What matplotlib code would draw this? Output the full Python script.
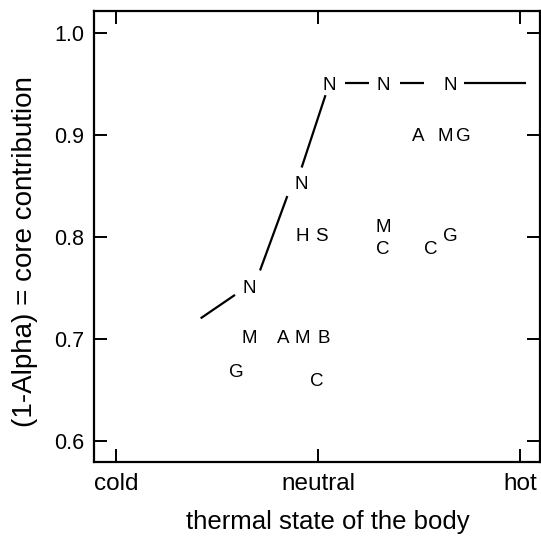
import numpy as np
import matplotlib
matplotlib.use("Agg")
import matplotlib.pyplot as plt

plt.rcParams['font.family'] = ['Liberation Sans', 'DejaVu Sans']

# ---- data ----
x_ticks = [0, 1, 2]
x_tick_labels = ["cold", "neutral", "hot"]
y_ticks = [0.6, 0.7, 0.8, 0.9, 1.0]
y_tick_labels = ["0.6", "0.7", "0.8", "0.9", "1.0"]

# letter markers (study codes)
letters = ["N", "N", "N", "N", "N",
           "A", "M", "G",
           "H", "S", "M", "C", "C", "G",
           "M", "A", "M", "B", "G", "C"]
letter_x = [0.661, 0.919, 1.057, 1.322, 1.653,
            1.495, 1.629, 1.718,
            0.924, 1.018, 1.322, 1.322, 1.557, 1.655,
            0.659, 0.827, 0.921, 1.026, 0.596, 0.994]
letter_y = [0.749, 0.851, 0.948, 0.948, 0.948,
            0.898, 0.898, 0.898,
            0.800, 0.800, 0.809, 0.788, 0.788, 0.800,
            0.700, 0.700, 0.700, 0.700, 0.667, 0.658]

# connecting line segments of the N series (gaps around labels)
seg_x0 = [0.419, 0.713, 0.919, 1.134, 1.407, 1.723]
seg_y0 = [0.720, 0.767, 0.868, 0.951, 0.951, 0.951]
seg_x1 = [0.589, 0.848, 1.037, 1.253, 1.526, 2.031]
seg_y1 = [0.743, 0.840, 0.939, 0.951, 0.951, 0.951]

fig = plt.figure(figsize=(5.41, 5.46), dpi=100)
ax = fig.add_axes([94/541, 84/546, 446/541, 451/546])

for x0, y0, x1, y1 in zip(seg_x0, seg_y0, seg_x1, seg_y1):
    ax.plot([x0, x1], [y0, y1], color='black', lw=1.6, solid_capstyle='butt')

for t, x, y in zip(letters, letter_x, letter_y):
    ax.text(x, y, t, ha='center', va='center', fontsize=13.5, color='black')

ax.set_xlim(-0.109, 2.099)
ax.set_ylim(0.579, 1.0216)
ax.set_xticks(x_ticks)
ax.set_xticklabels(x_tick_labels, fontsize=17.5)
ax.set_yticks(y_ticks)
ax.set_yticklabels(y_tick_labels, fontsize=15.5)
ax.tick_params(direction='in', length=9.5, width=1.4,
               top=True, right=True, colors='black')
ax.tick_params(axis='y', pad=7)
ax.tick_params(axis='x', pad=8)
for s in ax.spines.values():
    s.set_linewidth(1.6)

ax.set_xlabel("thermal state of the body", fontsize=18.5)
ax.xaxis.set_label_coords(234/446, -60/451)
ax.xaxis.label.set_va('center')
ax.set_ylabel("(1-Alpha) = core contribution", fontsize=20)
ax.yaxis.set_label_coords(-69/446, 210/451)
ax.yaxis.label.set_va('center')

fig.savefig("out.png", dpi=100)
